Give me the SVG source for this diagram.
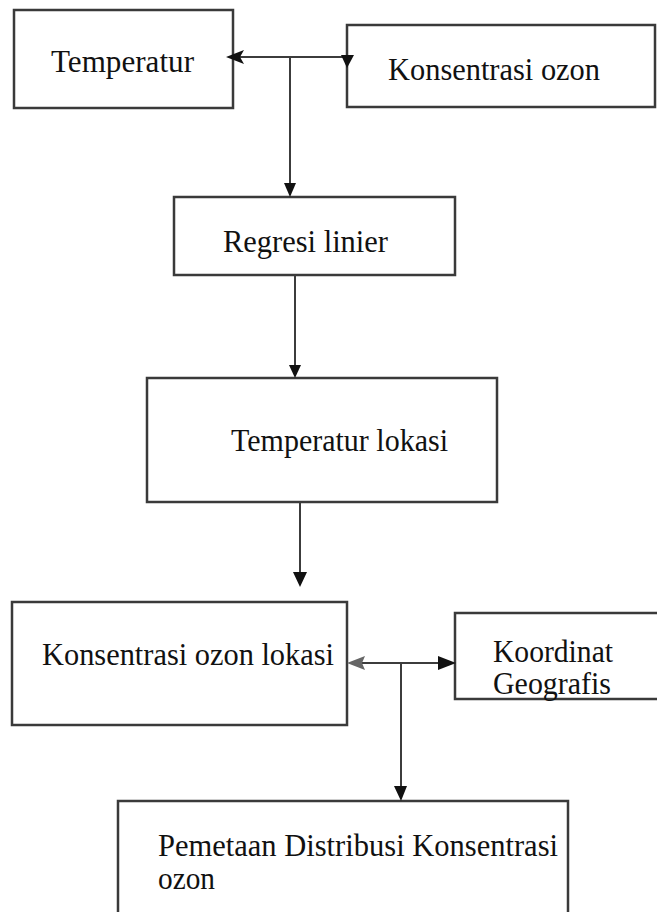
<svg xmlns="http://www.w3.org/2000/svg" width="657" height="912" viewBox="0 0 657 912">
<style>
.box{fill:#fff;stroke:#3a3a3a;stroke-width:2.5}
.lbl{font-family:"Liberation Serif","Times New Roman",serif;font-size:31px;fill:#111}
.ln{fill:none;stroke:#3c3c3c;stroke-width:2}
.ah{fill:#111}
</style>
<rect width="657" height="912" fill="#fff"/>
<g id="n-temperatur"><rect class="box" x="14" y="10" width="219" height="98"/><text class="lbl" x="51" y="72" textLength="143" lengthAdjust="spacingAndGlyphs">Temperatur</text></g>
<g id="n-konsentrasi"><rect class="box" x="347" y="25" width="308" height="82"/><text class="lbl" x="388" y="80" textLength="212" lengthAdjust="spacingAndGlyphs">Konsentrasi ozon</text></g>
<g id="n-regresi"><rect class="box" x="174" y="197" width="281" height="78"/><text class="lbl" x="223" y="252" textLength="165" lengthAdjust="spacingAndGlyphs">Regresi linier</text></g>
<g id="n-templokasi"><rect class="box" x="147" y="378" width="350" height="124"/><text class="lbl" x="231" y="451" textLength="217" lengthAdjust="spacingAndGlyphs">Temperatur lokasi</text></g>
<g id="n-ozonlokasi"><rect class="box" x="12" y="602" width="335" height="123"/><text class="lbl" x="42" y="665" textLength="292" lengthAdjust="spacingAndGlyphs">Konsentrasi ozon lokasi</text></g>
<g id="n-koordinat"><rect class="box" x="455" y="613" width="210" height="86"/><text class="lbl" x="493" y="662" textLength="120" lengthAdjust="spacingAndGlyphs">Koordinat</text><text class="lbl" x="493" y="694" textLength="118" lengthAdjust="spacingAndGlyphs">Geografis</text></g>
<g id="n-pemetaan"><rect class="box" x="118" y="801" width="450" height="120"/><text class="lbl" x="158" y="856" textLength="400" lengthAdjust="spacingAndGlyphs">Pemetaan Distribusi Konsentrasi</text><text class="lbl" x="158" y="889" textLength="57" lengthAdjust="spacingAndGlyphs">ozon</text></g>
<g id="connectors">
<path class="ln" d="M240 57 H347 M290 57 V186"/>
<polygon class="ah" points="226,57 244,50 240,57 244,64"/>
<polygon class="ah" points="341,55 354,55 347,68"/>
<polygon class="ah" points="284,183 296,183 290,197"/>
<path class="ln" d="M295 275 V366"/>
<polygon class="ah" points="289,365 301,365 295,378"/>
<path class="ln" d="M300 502 V574"/>
<polygon class="ah" points="293,572 307,572 300,587"/>
<path class="ln" d="M360 663 H444 M401 663 V788"/>
<polygon points="347,663 365,656 362,663 365,670" fill="#666"/>
<polygon class="ah" points="456,663 438,656 438,670"/>
<polygon class="ah" points="394,786 407,786 401,801"/>
</g>
</svg>
